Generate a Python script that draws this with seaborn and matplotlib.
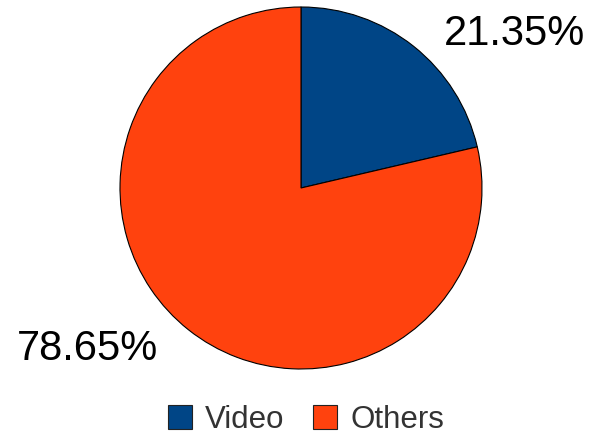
import matplotlib
matplotlib.use("Agg")
import matplotlib.pyplot as plt
from matplotlib.patches import Rectangle
import seaborn as sns

categories = ["Video", "Others"]
shares = [21.35, 78.65]
colors = ["#004586", "#ff420e"]

sns.set_theme(style="white")
plt.rcParams["font.family"] = ["Liberation Sans", "DejaVu Sans"]

fig = plt.figure(figsize=(5.9, 4.38), dpi=100)
ax = fig.add_axes([0, 0, 1, 1])

wedges, _ = ax.pie(
    shares,
    colors=colors,
    startangle=90,
    counterclock=False,
    radius=1.0,
    wedgeprops=dict(edgecolor="black", linewidth=0.8),
)

# percentage labels outside the slices
label_pos = [(1.177, 0.85), (-1.182, -0.89)]
for val, (x, y) in zip(shares, label_pos):
    ax.text(x, y, f"{val:.2f}%", ha="center", va="center",
            fontsize=30, color="black")

ax.set_xlim(-301 / 181, (590 - 301) / 181)
ax.set_ylim((188 - 438) / 181, 188 / 181)
ax.set_aspect("auto")
ax.axis("off")

handles = [Rectangle((0, 0), 1, 1, facecolor=c, edgecolor="#222222", linewidth=0.8)
           for c in colors]
fig.legend(handles, categories, loc="center", bbox_to_anchor=(306 / 590, 1 - 420 / 438),
           ncol=2, frameon=False, fontsize=22.5, handlelength=0.78, handleheight=0.78,
           handletextpad=0.42, columnspacing=0.9, labelcolor="#333333",
           borderpad=0, borderaxespad=0)

fig.savefig("out.png", dpi=100)
